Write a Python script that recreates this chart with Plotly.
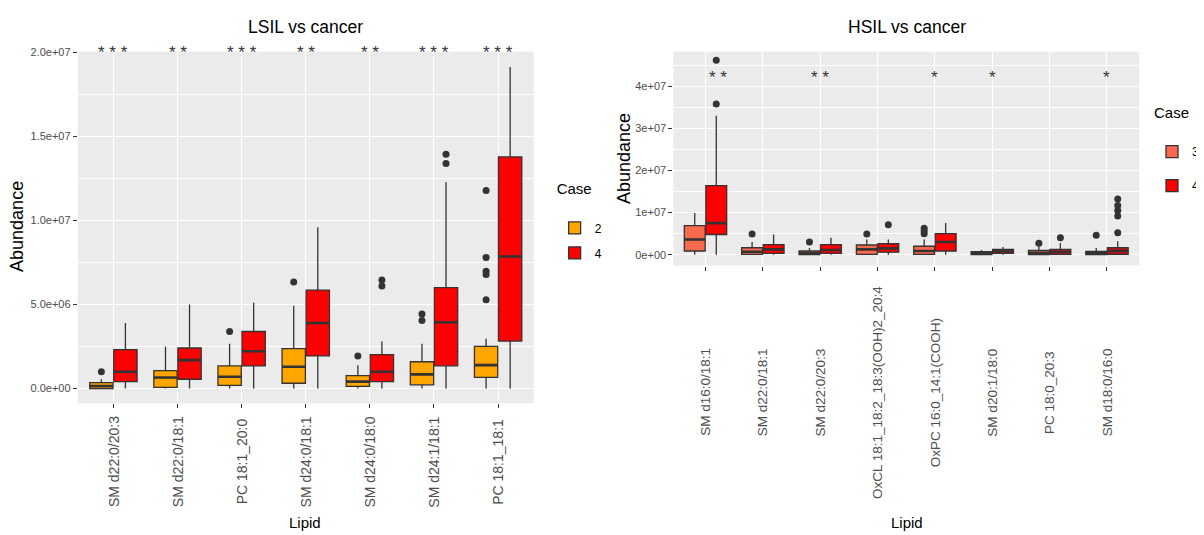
import plotly.graph_objects as go

W, H = 1204, 535

# ---------------- LSIL vs cancer (left panel) ----------------
lsil_lipids = ["SM d22:0/20:3", "SM d22:0/18:1", "PC 18:1_20:0", "SM d24:0/18:1",
               "SM d24:0/18:0", "SM d24:1/18:1", "PC 18:1_18:1"]
lsil_sig = ["***", "**", "***", "**", "**", "***", "***"]

# Case 2
l2_lower = [0, 0, 0, 0, 0, 0, 0]
l2_q1 = [0.0e6, 0.06e6, 0.18e6, 0.31e6, 0.12e6, 0.22e6, 0.66e6]
l2_med = [0.15e6, 0.65e6, 0.70e6, 1.29e6, 0.41e6, 0.84e6, 1.39e6]
l2_q3 = [0.35e6, 1.06e6, 1.34e6, 2.37e6, 0.76e6, 1.59e6, 2.51e6]
l2_upper = [0.55e6, 2.5e6, 2.66e6, 4.92e6, 1.39e6, 2.66e6, 2.96e6]
l2_out = [[1.0e6], [], [3.39e6], [6.34e6], [1.94e6], [4.43e6, 4.04e6],
          [11.78e6, 7.8e6, 6.98e6, 6.78e6, 5.28e6]]

# Case 4
l4_lower = [0, 0, 0, 0, 0, 0, 0]
l4_q1 = [0.41e6, 0.55e6, 1.34e6, 1.94e6, 0.41e6, 1.35e6, 2.82e6]
l4_med = [1.0e6, 1.69e6, 2.22e6, 3.9e6, 1.0e6, 3.94e6, 7.86e6]
l4_q3 = [2.31e6, 2.41e6, 3.39e6, 5.86e6, 2.02e6, 6.0e6, 13.78e6]
l4_upper = [3.9e6, 5.0e6, 5.1e6, 9.59e6, 2.8e6, 12.28e6, 19.14e6]
l4_out = [[], [], [], [], [6.45e6, 6.1e6], [13.94e6, 13.39e6], []]

lsil_ticks = [0, 5e6, 1e7, 1.5e7, 2e7]
lsil_ticktext = ["0.0e+00", "5.0e+06", "1.0e+07", "1.5e+07", "2.0e+07"]
lsil_minor = [2.5e6, 7.5e6, 1.25e7, 1.75e7]
lsil_sig_y = 2.0e7

# ---------------- HSIL vs cancer (right panel) ----------------
hsil_lipids = ["SM d16:0/18:1", "SM d22:0/18:1", "SM d22:0/20:3",
               "OxCL 18:1_18:2_18:3(OOH)2_20:4", "OxPC 16:0_14:1(COOH)",
               "SM d20:1/18:0", "PC 18:0_20:3", "SM d18:0/16:0"]
hsil_sig = ["**", "", "**", "", "*", "*", "", "*"]

# Case 3
h3_lower = [0, 0, 0, 0, 0, 0, 0, 0]
h3_q1 = [0.87e6, 0.07e6, 0.0, 0.07e6, 0.07e6, 0.0, 0.0, 0.0]
h3_med = [3.6e6, 0.7e6, 0.3e6, 1.25e6, 0.87e6, 0.3e6, 0.45e6, 0.3e6]
h3_q3 = [6.9e6, 1.65e6, 0.87e6, 2.3e6, 2.0e6, 0.7e6, 1.0e6, 0.8e6]
h3_upper = [9.9e6, 3.0e6, 1.6e6, 3.6e6, 3.6e6, 1.1e6, 1.9e6, 1.6e6]
h3_out = [[], [4.9e6], [3.0e6], [4.9e6], [6.3e6, 5.6e6, 5.0e6], [], [2.7e6], [4.6e6]]

# Case 4
h4_lower = [0, 0, 0, 0, 0, 0, 0, 0]
h4_q1 = [4.8e6, 0.3e6, 0.3e6, 0.6e6, 0.87e6, 0.3e6, 0.1e6, 0.1e6]
h4_med = [7.5e6, 1.25e6, 1.1e6, 1.5e6, 3.0e6, 0.8e6, 0.7e6, 0.9e6]
h4_q3 = [16.4e6, 2.4e6, 2.4e6, 2.6e6, 5.0e6, 1.25e6, 1.25e6, 1.65e6]
h4_upper = [33.0e6, 4.8e6, 4.0e6, 3.6e6, 7.5e6, 1.8e6, 2.8e6, 3.2e6]
h4_out = [[46.2e6, 35.8e6], [], [], [7.1e6], [], [], [4.0e6],
          [13.2e6, 11.7e6, 10.5e6, 9.2e6, 5.2e6]]

hsil_ticks = [0, 1e7, 2e7, 3e7, 4e7]
hsil_ticktext = ["0e+00", "1e+07", "2e+07", "3e+07", "4e+07"]
hsil_minor = [5e6, 1.5e7, 2.5e7, 3.5e7, 4.5e7]
hsil_sig_y = 4.22e7

# ---------------- styling ----------------
C_ORANGE = "#FFA500"
C_RED = "#FF0000"
C_TOMATO = "#F8694E"
LINE = "#333333"
PANEL = "#EBEBEB"
AX_TXT = "#4D4D4D"
FONT = "Liberation Sans, Arial, sans-serif"

# the page body has an 8px default margin: lay the figure out inside it
OFF = 8
FW, FH = W - OFF, H - OFF


def px_x(p):
    return (p - OFF) / FW


def px_y(p):
    return (FH - (p - OFF)) / FH


def make_box(name, cats, q1, med, q3, lo, hi, outs, color, xa, ya, leg):
    # empty outlier rows become a single null so plotly reads the samples as 2-D
    pts = [list(o) if len(o) else [None] for o in outs]
    return go.Box(
        x=cats, q1=q1, median=med, q3=q3, lowerfence=lo, upperfence=hi,
        y=pts, boxpoints="outliers", jitter=0, pointpos=0,
        fillcolor=color, line=dict(color=LINE, width=1.3),
        marker=dict(color=LINE, size=7, line=dict(width=0)),
        whiskerwidth=0, name=name, offsetgroup=name + leg,
        legendgroup=name + leg,
        xaxis=xa, yaxis=ya, legend=leg, hoverinfo="skip",
    )


def make_median(name, cats, med, xa, ya, leg):
    # thick median bar (ggplot draws the median fatter than the box outline)
    return go.Box(
        x=cats, q1=med, median=med, q3=med, lowerfence=med, upperfence=med,
        boxpoints=False, fillcolor="rgba(0,0,0,0)",
        line=dict(color=LINE, width=2.6), whiskerwidth=0,
        name=name, offsetgroup=name + leg, legendgroup=name + leg,
        showlegend=False, xaxis=xa, yaxis=ya, legend=leg, hoverinfo="skip",
    )


fig = go.Figure()
fig.add_trace(make_box("2", lsil_lipids, l2_q1, l2_med, l2_q3, l2_lower, l2_upper,
                       l2_out, C_ORANGE, "x", "y", "legend"))
fig.add_trace(make_box("4", lsil_lipids, l4_q1, l4_med, l4_q3, l4_lower, l4_upper,
                       l4_out, C_RED, "x", "y", "legend"))
fig.add_trace(make_box("3", hsil_lipids, h3_q1, h3_med, h3_q3, h3_lower, h3_upper,
                       h3_out, C_TOMATO, "x2", "y2", "legend2"))
fig.add_trace(make_box("4", hsil_lipids, h4_q1, h4_med, h4_q3, h4_lower, h4_upper,
                       h4_out, C_RED, "x2", "y2", "legend2"))
fig.add_trace(make_median("2", lsil_lipids, l2_med, "x", "y", "legend"))
fig.add_trace(make_median("4", lsil_lipids, l4_med, "x", "y", "legend"))
fig.add_trace(make_median("3", hsil_lipids, h3_med, "x2", "y2", "legend2"))
fig.add_trace(make_median("4", hsil_lipids, h4_med, "x2", "y2", "legend2"))

xcommon = dict(type="category", showgrid=True, gridcolor="white", gridwidth=1.1,
               showticklabels=False, ticks="outside", ticklen=4, tickcolor=LINE,
               tickwidth=1, showline=False, zeroline=False, fixedrange=True)
ycommon = dict(showgrid=True, gridcolor="white", gridwidth=1.1, zeroline=False,
               ticks="outside", ticklen=4, tickcolor=LINE, tickwidth=1,
               showline=False, tickmode="array",
               tickfont=dict(family=FONT, size=11, color=AX_TXT))


def legend_cfg(x, y, gap):
    return dict(x=x, y=y, xanchor="left", yanchor="top",
                title=dict(text="Case<br>\u00a0", font=dict(family=FONT, size=15, color="black")),
                font=dict(family=FONT, size=12, color="black"),
                bgcolor="rgba(0,0,0,0)", traceorder="grouped",
                tracegroupgap=gap, itemwidth=30)


fig.update_layout(
    width=FW, height=FH, margin=dict(l=0, r=0, t=0, b=0),
    paper_bgcolor="white", plot_bgcolor=PANEL,
    boxmode="group", boxgap=0.25, boxgroupgap=0.03,
    xaxis=dict(domain=[px_x(78), px_x(535)], anchor="y",
               categoryorder="array", categoryarray=lsil_lipids, **xcommon),
    yaxis=dict(domain=[px_y(402), px_y(47)], anchor="x", range=[-0.88e6, 2.005e7],
               tickvals=lsil_ticks, ticktext=lsil_ticktext,
               minor=dict(tickmode="array", tickvals=lsil_minor, showgrid=True,
                          gridcolor="white", gridwidth=0.5, ticklen=0),
               **ycommon),
    xaxis2=dict(domain=[px_x(675), px_x(1142)], anchor="y2",
                categoryorder="array", categoryarray=hsil_lipids, **xcommon),
    yaxis2=dict(domain=[px_y(263), px_y(47)], anchor="x2", range=[-2.59e6, 4.824e7],
                tickvals=hsil_ticks, ticktext=hsil_ticktext,
                minor=dict(tickmode="array", tickvals=hsil_minor, showgrid=True,
                           gridcolor="white", gridwidth=0.5, ticklen=0),
                **ycommon),
    legend=legend_cfg(px_x(556), px_y(171), 6),
    legend2=legend_cfg(px_x(1155), px_y(94), 15),
    showlegend=True,
)

ann = []
# titles
ann.append(dict(text="LSIL vs cancer", x=px_x(306), y=px_y(22), xref="paper", yref="paper",
                showarrow=False, xanchor="center", yanchor="middle",
                font=dict(family=FONT, size=17.5, color="black")))
ann.append(dict(text="HSIL vs cancer", x=px_x(909), y=px_y(22), xref="paper", yref="paper",
                showarrow=False, xanchor="center", yanchor="middle",
                font=dict(family=FONT, size=17.5, color="black")))
# axis titles
ann.append(dict(text="Abundance", x=px_x(17), y=px_y(223), xref="paper", yref="paper",
                showarrow=False, textangle=-90, xanchor="center", yanchor="middle",
                font=dict(family=FONT, size=18, color="black")))
ann.append(dict(text="Abundance", x=px_x(625), y=px_y(155), xref="paper", yref="paper",
                showarrow=False, textangle=-90, xanchor="center", yanchor="middle",
                font=dict(family=FONT, size=18, color="black")))
ann.append(dict(text="Lipid", x=px_x(306), y=px_y(522), xref="paper", yref="paper",
                showarrow=False, xanchor="center", yanchor="middle",
                font=dict(family=FONT, size=15, color="black")))
ann.append(dict(text="Lipid", x=px_x(909), y=px_y(522), xref="paper", yref="paper",
                showarrow=False, xanchor="center", yanchor="middle",
                font=dict(family=FONT, size=15, color="black")))
# rotated category labels
for lab in lsil_lipids:
    ann.append(dict(text=lab, x=lab, y=px_y(461), xref="x", yref="paper",
                    showarrow=False, textangle=-90, xanchor="center", yanchor="middle",
                    font=dict(family=FONT, size=14, color=AX_TXT)))
for lab in hsil_lipids:
    ann.append(dict(text=lab, x=lab, y=px_y(391), xref="x2", yref="paper",
                    showarrow=False, textangle=-90, xanchor="center", yanchor="middle",
                    font=dict(family=FONT, size=13.5, color=AX_TXT)))
# significance stars
for lab, s in zip(lsil_lipids, lsil_sig):
    ann.append(dict(text=" ".join(s), x=lab, y=lsil_sig_y, xref="x", yref="y",
                    showarrow=False, xanchor="center", yanchor="middle",
                    font=dict(family=FONT, size=17, color="#333333")))
for i, (lab, s) in enumerate(zip(hsil_lipids, hsil_sig)):
    if not s:
        continue
    ann.append(dict(text=" ".join(s), x=lab, y=hsil_sig_y, xref="x2", yref="y2",
                    showarrow=False, xanchor="center", yanchor="middle",
                    xshift=12 if i == 0 else 0,
                    font=dict(family=FONT, size=17, color="#333333")))

fig.update_layout(annotations=ann)
fig.write_html("out.html")
